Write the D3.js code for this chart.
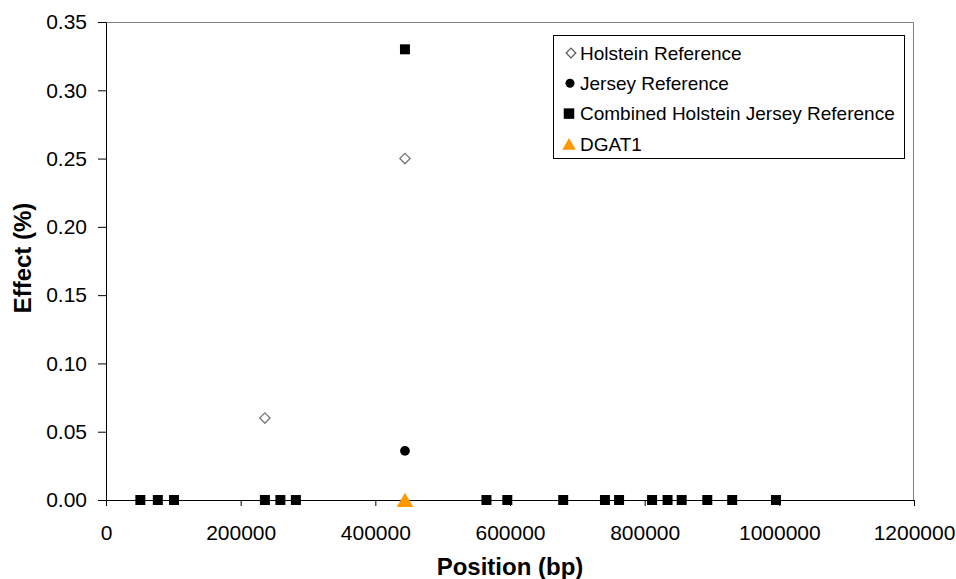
<!DOCTYPE html>
<html>
<head>
<meta charset="utf-8">
<script src="https://cdn.jsdelivr.net/npm/d3@7"></script>
<style>
  body { margin: 0; background: #fff; }
  text { font-family: "Liberation Sans", Arial, sans-serif; }
</style>
</head>
<body>
<div id="chart"></div>
<script>
// series data
var holsteinPos = [236000, 444000];
var holsteinEff = [0.06, 0.25];

var jerseyPos = [444000];
var jerseyEff = [0.036];

var combinedPos = [51000, 77000, 101000, 236000, 259000, 282000, 444000,
                   565000, 596000, 679000, 741000, 762000, 811000, 834000,
                   855000, 893000, 930000, 995000];
var combinedEff = [0, 0, 0, 0, 0, 0, 0.33,
                   0, 0, 0, 0, 0, 0, 0,
                   0, 0, 0, 0];

var dgatPos = [444000];
var dgatEff = [0];

var legendNames = ["Holstein Reference", "Jersey Reference",
                   "Combined Holstein Jersey Reference", "DGAT1"];
var xTicks = [0, 200000, 400000, 600000, 800000, 1000000, 1200000];
var yTicks = [0, 0.05, 0.10, 0.15, 0.20, 0.25, 0.30, 0.35];

// set the dimensions and margins of the graph
var margin = {top: 22, right: 42, bottom: 79, left: 106},
    width = 956 - margin.left - margin.right,
    height = 579 - margin.top - margin.bottom;

var svg = d3.select("#chart").append("svg")
    .attr("width", 956)
    .attr("height", 579)
  .append("g")
    .attr("transform", "translate(" + margin.left + "," + margin.top + ")");

var x = d3.scaleLinear().domain([0, 1200000]).range([0, width]);
var y = d3.scaleLinear().domain([0, 0.35]).range([height, 0]);

function zip(a, b) {
  return a.map(function(v, i) { return {pos: v, eff: b[i]}; });
}

// gray frame on top and right
svg.append("line").attr("x1", 0).attr("x2", width).attr("y1", 0.5).attr("y2", 0.5)
    .attr("stroke", "#808080");
svg.append("line").attr("x1", width - 0.5).attr("x2", width - 0.5).attr("y1", 0).attr("y2", height)
    .attr("stroke", "#808080");

// axes
var xAxis = svg.append("g")
    .attr("transform", "translate(0," + height + ")")
    .call(d3.axisBottom(x).tickValues(xTicks).tickFormat(d3.format("d"))
          .tickSizeInner(6).tickSizeOuter(0).tickPadding(19));

var yAxis = svg.append("g")
    .call(d3.axisLeft(y).tickValues(yTicks).tickFormat(d3.format(".2f"))
          .tickSizeInner(8).tickSizeOuter(0).tickPadding(11));

[xAxis, yAxis].forEach(function(a) {
  a.selectAll("text").style("font-size", "21px").attr("fill", "#000");
  a.selectAll("line").attr("stroke", "#000");
  a.select(".domain").attr("stroke", "#000");
});

// axis titles
svg.append("text")
    .attr("x", width / 2)
    .attr("y", height + 75)
    .style("text-anchor", "middle")
    .style("font-size", "24px")
    .style("font-weight", "bold")
    .text("Position (bp)");

svg.append("text")
    .attr("transform", "rotate(-90)")
    .attr("x", -height / 2 + 3)
    .attr("y", -75)
    .style("text-anchor", "middle")
    .style("font-size", "24px")
    .style("font-weight", "bold")
    .text("Effect (%)");

// symbols
var sqr = d3.symbol().type(d3.symbolSquare).size(100);
var dia = d3.symbol().type(d3.symbolDiamond2).size(68);
var dot = d3.symbol().type(d3.symbolCircle).size(75);
var tri = d3.symbol().type(d3.symbolTriangle).size(120);

function tr(d) { return "translate(" + x(d.pos) + "," + y(d.eff) + ")"; }

svg.selectAll(".comb")
    .data(zip(combinedPos, combinedEff))
    .enter().append("path")
      .attr("class", "comb")
      .attr("d", sqr)
      .attr("fill", "#000")
      .attr("transform", tr);

svg.selectAll(".hol")
    .data(zip(holsteinPos, holsteinEff))
    .enter().append("path")
      .attr("class", "hol")
      .attr("d", dia)
      .attr("fill", "#fff")
      .attr("stroke", "#777")
      .attr("stroke-width", 1.3)
      .attr("transform", tr);

svg.selectAll(".jer")
    .data(zip(jerseyPos, jerseyEff))
    .enter().append("path")
      .attr("class", "jer")
      .attr("d", dot)
      .attr("fill", "#000")
      .attr("transform", tr);

svg.selectAll(".dgat")
    .data(zip(dgatPos, dgatEff))
    .enter().append("path")
      .attr("class", "dgat")
      .attr("d", tri)
      .attr("fill", "#FF9900")
      .attr("transform", function(d) { return "translate(" + x(d.pos) + "," + (y(d.eff) + 2.3) + ")"; });

// Legend
var legend = svg.append("g").attr("transform", "translate(447,13)");
legend.append("rect")
    .attr("x", 0.5).attr("y", 0.5)
    .attr("width", 351)
    .attr("height", 123)
    .attr("fill", "#fff")
    .attr("stroke", "#000");

var legSyms = [
  {sym: d3.symbol().type(d3.symbolDiamond2).size(60), fill: "#fff", stroke: "#555", dx: 18},
  {sym: d3.symbol().type(d3.symbolCircle).size(64), fill: "#000", stroke: "none", dx: 17},
  {sym: d3.symbol().type(d3.symbolSquare).size(110), fill: "#000", stroke: "none", dx: 16},
  {sym: d3.symbol().type(d3.symbolTriangle).size(80), fill: "#FF9900", stroke: "none", dx: 16}
];

legendNames.forEach(function(name, i) {
  var ly = 18 + i * 30.3;
  legend.append("path")
      .attr("d", legSyms[i].sym)
      .attr("fill", legSyms[i].fill)
      .attr("stroke", legSyms[i].stroke)
      .attr("stroke-width", 1.2)
      .attr("transform", "translate(" + legSyms[i].dx + "," + (i == 3 ? ly + 2 : ly) + ")");
  legend.append("text")
      .attr("x", 27)
      .attr("y", ly)
      .attr("dy", "0.35em")
      .style("font-size", "19px")
      .text(name);
});
</script>
</body>
</html>
